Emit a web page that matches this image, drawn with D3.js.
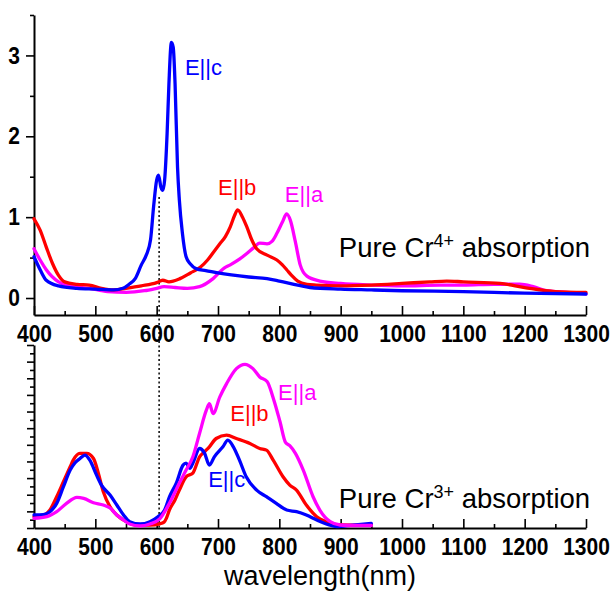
<!DOCTYPE html>
<html>
<head>
<meta charset="utf-8">
<script src="https://cdn.jsdelivr.net/npm/d3@7"></script>
<style>
  body { margin: 0; background: #fff; }
  svg { display: block; }
  text { font-family: Arial, "Liberation Sans", sans-serif; }
</style>
</head>
<body>
<svg id="chart" width="614" height="595"></svg>
<script>
// ---- Cr4+ absorption (absorbance), wavelength in nm ----
const cr4_Ea = [[400,0.61],[410,0.47],[420,0.35],[440,0.20],[460,0.15],[490,0.12],[520,0.08],[550,0.07],[580,0.09],[600,0.12],[612,0.14],[630,0.13],[650,0.12],[670,0.14],[692,0.24],[710,0.37],[720,0.41],[735,0.48],[747,0.55],[758,0.62],[768,0.68],[780,0.67],[788,0.70],[796,0.80],[805,0.94],[812,1.04],[818,0.96],[826,0.70],[834,0.41],[845,0.27],[866,0.21],[900,0.18],[950,0.16],[1000,0.15],[1062,0.16],[1100,0.16],[1150,0.17],[1192,0.17],[1214,0.14],[1236,0.09],[1270,0.07],[1300,0.05]];
const cr4_Eb = [[400,0.98],[410,0.84],[420,0.63],[430,0.43],[440,0.28],[450,0.20],[470,0.17],[490,0.16],[510,0.12],[530,0.10],[550,0.12],[575,0.15],[600,0.19],[610,0.22],[620,0.20],[638,0.24],[655,0.31],[671,0.38],[683,0.47],[692,0.56],[703,0.67],[712,0.76],[720,0.88],[727,1.02],[732,1.09],[740,1.00],[747,0.88],[755,0.72],[763,0.61],[780,0.53],[796,0.47],[805,0.41],[812,0.35],[820,0.28],[830,0.21],[845,0.17],[860,0.16],[900,0.15],[950,0.16],[1000,0.18],[1045,0.20],[1073,0.21],[1100,0.20],[1160,0.18],[1200,0.13],[1250,0.08],[1300,0.07]];
const cr4_Ec = [[400,0.51],[410,0.35],[420,0.22],[440,0.15],[470,0.12],[500,0.11],[530,0.10],[545,0.12],[555,0.17],[565,0.24],[575,0.41],[583,0.53],[590,0.72],[595,1.13],[600,1.46],[603,1.52],[607,1.37],[610,1.33],[613,1.46],[617,2.03],[620,2.65],[624,3.16],[627,3.10],[630,2.65],[634,1.62],[637,1.21],[642,0.80],[648,0.51],[655,0.42],[665,0.36],[680,0.34],[700,0.31],[750,0.26],[780,0.24],[800,0.21],[830,0.16],[850,0.13],[900,0.11],[950,0.10],[1000,0.09],[1100,0.08],[1200,0.06],[1300,0.05]];

// ---- Cr3+ absorption (arb. units), wavelength in nm ----
const cr3_Ea = [[400,1.16],[421,1.36],[437,1.96],[453,2.96],[470,3.68],[481,3.56],[497,3.04],[513,2.76],[524,2.40],[535,1.56],[546,0.96],[556,0.48],[573,0.24],[589,0.48],[605,1.10],[621,3.00],[637,5.40],[648,6.96],[659,8.56],[670,11.40],[681,14.16],[686,14.96],[692,13.76],[703,15.76],[714,17.36],[730,19.16],[744,19.68],[757,19.16],[768,18.16],[780,17.60],[791,15.40],[801,12.80],[810,10.30],[817,9.90],[826,9.00],[839,6.96],[855,3.76],[866,2.16],[883,0.76],[899,0.36],[920,0.30],[950,0.30]];
const cr3_Eb = [[400,1.36],[415,1.50],[426,2.16],[437,3.76],[448,5.56],[459,7.36],[464,8.16],[475,8.96],[486,8.96],[497,8.36],[505,6.56],[513,4.36],[524,2.56],[535,1.56],[551,0.76],[567,0.36],[589,0.36],[605,0.50],[612,0.70],[616,1.20],[621,2.20],[630,3.40],[637,4.56],[648,6.16],[659,6.60],[670,8.56],[678,9.16],[686,9.76],[697,10.76],[714,11.16],[730,10.76],[752,10.16],[768,9.56],[779,9.36],[790,8.16],[806,6.16],[817,5.16],[828,4.56],[844,2.76],[861,1.36],[875,0.80],[893,0.40],[920,0.35],[950,0.35]];
const cr3_Ec = [[400,1.56],[415,1.60],[426,1.96],[437,2.96],[448,4.96],[459,6.96],[467,7.84],[475,8.36],[483,8.76],[491,8.16],[502,6.36],[510,5.16],[524,3.96],[535,2.76],[546,1.56],[556,0.76],[573,0.48],[589,0.76],[602,1.36],[613,2.16],[621,3.76],[632,5.40],[643,7.56],[648,7.80],[654,7.16],[659,7.80],[670,9.56],[678,9.00],[686,7.56],[694,8.56],[708,9.76],[716,10.56],[725,9.76],[735,8.16],[746,6.16],[763,4.56],[779,3.76],[795,2.96],[812,2.16],[828,1.96],[844,1.56],[861,0.96],[880,0.40],[893,0.16],[920,0.35],[950,0.56]];

// ---- axis ticks ----
const xMajorTicks = [400,500,600,700,800,900,1000,1100,1200,1300];
const xMinorTicks = [450,550,650,750,850,950,1050,1150,1250];
const yTopMajorTicks = [0,1,2,3];
const yTopMinorTicks = [0.5,1.5,2.5,3.5];
const yBotMajorTicks = [0,2,4,6,8,10,12,14,16,18,20,22];
const yBotMinorTicks = [1,3,5,7,9,11,13,15,17,19,21];

// reference wavelength marked by the dotted line
const markerWavelength = 604;
const markerTopValue = 1.25;

const colors = { a: "#ff00ff", b: "#ff0000", c: "#0000ff" };

const svg = d3.select("#chart");

const x = d3.scaleLinear().domain([400, 1300]).range([34, 586]);
const yTop = d3.scaleLinear().domain([-0.21, 3.5]).range([315, 15]);
const yBot = d3.scaleLinear().domain([0, 22]).range([528, 345]);

const labelFont = "bold 21px Arial, 'Liberation Sans', sans-serif";

function drawXAxis(yPos) {
  const major = svg.append("g").attr("transform", `translate(0,${yPos})`)
    .call(d3.axisBottom(x).tickValues(xMajorTicks).tickSizeInner(-9).tickSizeOuter(0)
      .tickPadding(10).tickFormat(d3.format("d")));
  major.select(".domain").attr("stroke", "#000").attr("stroke-width", 2);
  major.selectAll(".tick line").attr("stroke", "#000").attr("stroke-width", 1.6);
  major.selectAll(".tick text")
    .attr("y", 0)
    .attr("transform", "translate(0,10) scale(1,1.13)")
    .style("font", labelFont).attr("fill", "#000");

  const minor = svg.append("g").attr("transform", `translate(0,${yPos})`)
    .call(d3.axisBottom(x).tickValues(xMinorTicks).tickSize(-4).tickFormat(""));
  minor.select(".domain").remove();
  minor.selectAll(".tick line").attr("stroke", "#000").attr("stroke-width", 1.6);
}

function drawYAxis(scale, majorVals, minorVals, withLabels) {
  const major = svg.append("g").attr("transform", "translate(34,0)")
    .call(d3.axisLeft(scale).tickValues(majorVals).tickSizeInner(withLabels ? 8 : 7)
      .tickSizeOuter(0).tickPadding(6)
      .tickFormat(withLabels ? d3.format("d") : ""));
  major.select(".domain").attr("stroke", "#000").attr("stroke-width", 2);
  major.selectAll(".tick line").attr("stroke", "#000").attr("stroke-width", 1.6);
  major.selectAll(".tick text")
    .attr("transform", "scale(1,1.13)")
    .style("font", labelFont).attr("fill", "#000");

  const minor = svg.append("g").attr("transform", "translate(34,0)")
    .call(d3.axisLeft(scale).tickValues(minorVals).tickSize(4).tickFormat(""));
  minor.select(".domain").remove();
  minor.selectAll(".tick line").attr("stroke", "#000").attr("stroke-width", 1.6);
}

// axes
drawYAxis(yTop, yTopMajorTicks, yTopMinorTicks, true);
drawXAxis(yTop.range()[0]);
drawYAxis(yBot, yBotMajorTicks, yBotMinorTicks, false);
drawXAxis(yBot.range()[0]);

// dotted marker line through both panels
svg.append("line")
  .attr("x1", x(markerWavelength)).attr("x2", x(markerWavelength))
  .attr("y1", yTop(markerTopValue)).attr("y2", yBot(0))
  .attr("stroke", "#000").attr("stroke-width", 1.5)
  .attr("stroke-dasharray", "2,2.5");

function drawCurve(data, yScale, color) {
  const line = d3.line()
    .x(d => x(d[0])).y(d => yScale(d[1]))
    .curve(d3.curveMonotoneX);
  svg.append("path").datum(data)
    .attr("d", line)
    .attr("fill", "none")
    .attr("stroke", color)
    .attr("stroke-width", 3.3)
    .attr("stroke-linejoin", "round")
    .attr("stroke-linecap", "round");
}

// top panel: Cr4+
drawCurve(cr4_Ea, yTop, colors.a);
drawCurve(cr4_Eb, yTop, colors.b);
drawCurve(cr4_Ec, yTop, colors.c);

// bottom panel: Cr3+
drawCurve(cr3_Eb, yBot, colors.b);
drawCurve(cr3_Ec, yBot, colors.c);
drawCurve(cr3_Ea, yBot, colors.a);

// polarization labels
function label(txt, nm, val, yScale, color) {
  svg.append("text")
    .attr("x", x(nm)).attr("y", yScale(val))
    .attr("fill", color)
    .style("font-size", "22px")
    .text(txt);
}
label("E||c", 646, 2.76, yTop, colors.c);
label("E||b", 700, 1.27, yTop, colors.b);
label("E||a", 809, 1.19, yTop, colors.a);
label("E||a", 798, 15.4, yBot, colors.a);
label("E||b", 720, 12.9, yBot, colors.b);
label("E||c", 684, 4.97, yBot, colors.c);

// panel titles with ion charge superscripts
function panelTitle(ion, charge, nm, val, yScale) {
  const t = svg.append("text")
    .attr("x", x(nm)).attr("y", yScale(val))
    .attr("fill", "#000")
    .style("font-size", "27.5px");
  t.append("tspan").text("Pure " + ion);
  t.append("tspan").attr("dy", -10).style("font-size", "18px").text(charge);
  t.append("tspan").attr("dy", 10).text(" absorption");
}
panelTitle("Cr", "4+", 897, 0.51, yTop);
panelTitle("Cr", "3+", 897, 2.37, yBot);

// x-axis title
svg.append("text")
  .attr("x", 320).attr("y", 585)
  .attr("text-anchor", "middle")
  .attr("fill", "#000")
  .style("font-size", "27px")
  .text("wavelength(nm)");
</script>
</body>
</html>
